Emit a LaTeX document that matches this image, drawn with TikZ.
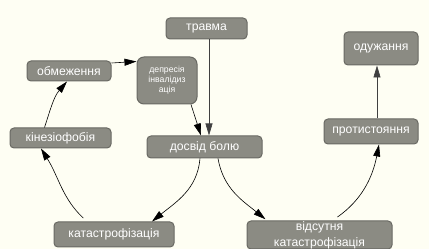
\documentclass[tikz,border=0pt]{standalone}
\usepackage{fontspec}
\setmainfont{Liberation Sans}
\setsansfont{Liberation Sans}
\usetikzlibrary{arrows.meta}
\definecolor{bg}{RGB}{254,254,243}
\definecolor{boxfill}{RGB}{139,139,131}
\definecolor{boxline}{RGB}{105,105,99}
\tikzset{
  box/.style={draw=boxline, line width=1pt, fill=boxfill, rounded corners=4pt,
    text=white, font=\fontsize{12.2}{14}\selectfont, inner sep=0pt, align=center},
  smallbox/.style={box, rounded corners=7pt, font=\fontsize{8.7}{10}\selectfont},
  conn/.style={line width=0.6pt, -{Triangle[length=12pt,width=7pt]}},
  vconn/.style={conn, black!75}
}
\begin{document}
\begin{tikzpicture}[x=1pt,y=1pt]
\fill[bg] (0,0) rectangle (429,249);
\useasboundingbox (0,0) rectangle (429,249);
\node[box, minimum width=81pt, minimum height=21pt] (trauma) at (206.5,220.5) {травма};
\node[box, minimum width=74pt, minimum height=33pt] (odu) at (381,200.5) {одужання};
\node[box, minimum width=94pt, minimum height=25pt] (prot) at (371,117.5) {протистояння};
\node[box, minimum width=84pt, minimum height=20pt] (obm) at (69,178) {обмеження};
\node[smallbox, minimum width=60pt, minimum height=47pt] (dep) at (167,168.5) {депресія\\інвалідиз\\ація};
\node[box, minimum width=101pt, minimum height=20pt] (kin) at (60.5,111) {кінезіофобія};
\node[box, minimum width=115pt, minimum height=22pt] (dosvid) at (204.5,102) {досвід болю};
\node[box, minimum width=120pt, minimum height=25pt] (kat) at (114,14.5) {катастрофізація};
\node[box, minimum width=145pt, minimum height=28pt, font=\fontsize{12.2}{16}\selectfont] (vids) at (319.5,14) {відсутня\\катастрофізація};

\draw[vconn] ([xshift=2.5pt]trauma.south) -- ([xshift=2.5pt]trauma.south |- dosvid.north);
\draw[conn] ([xshift=24pt]dep.south) -- ([xshift=-3.5pt]dosvid.north);
\draw[conn] ([yshift=8pt]obm.east) -- ([yshift=19pt]dep.west);
\draw[conn] ([xshift=-16pt]kin.north) to[out=72,in=229] ([xshift=-2pt]obm.south);
\draw[conn, shorten <=5pt] ([xshift=-27pt]kat.north) to[out=137,in=-58] ([xshift=-19.5pt]kin.south);
\draw[conn] ([xshift=-4.5pt]dosvid.south) to[out=-95,in=39] ([xshift=38pt]kat.north);
\draw[conn, shorten >=2pt] ([xshift=13.5pt]dosvid.south) to[out=-80,in=141] ([xshift=-52.5pt]vids.north);
\draw[conn, shorten <=6pt] ([xshift=13pt]vids.north) to[out=35,in=-101] ([xshift=8pt]prot.south);
\draw[vconn] ([xshift=6pt]prot.north) -- ([xshift=6pt]prot.north |- odu.south);
\end{tikzpicture}
\end{document}
